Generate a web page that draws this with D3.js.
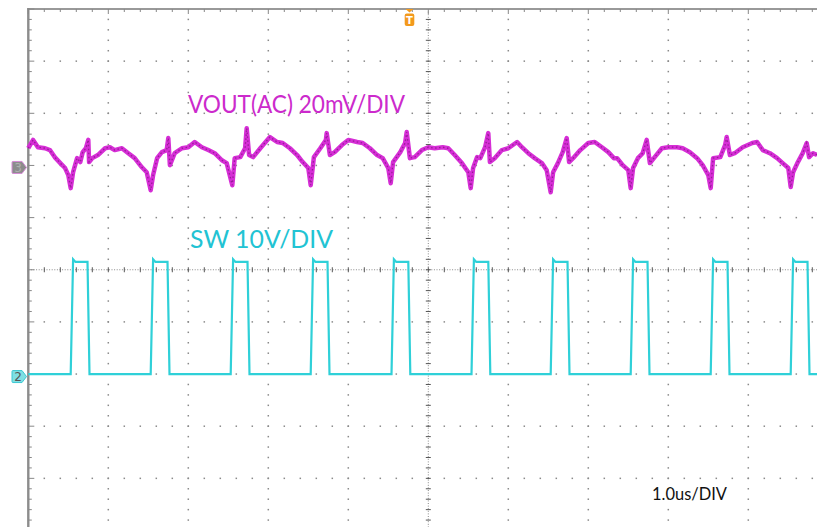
<!DOCTYPE html>
<html>
<head>
<meta charset="utf-8">
<script src="https://cdn.jsdelivr.net/npm/d3@7"></script>
<style>
  body { margin: 0; background: #fff; }
  svg { display: block; }
</style>
</head>
<body>
<div id="scope"></div>
<script>
// VOUT (AC) ripple: time in us, level in mV
var voutTime = [-5.00, -4.94, -4.88, -4.79, -4.73, -4.67, -4.60, -4.54, -4.50, -4.47, -4.44, -4.39, -4.35, -4.32, -4.28, -4.25, -4.24, -4.20, -4.13, -4.04,
  -3.98, -3.92, -3.83, -3.75, -3.67, -3.58, -3.52, -3.47, -3.44, -3.39, -3.33, -3.27, -3.25, -3.23, -3.17, -3.08, -3.00, -2.92, -2.83, -2.75,
  -2.67, -2.58, -2.52, -2.45, -2.42, -2.35, -2.29, -2.27, -2.24, -2.19, -2.10, -1.98, -1.89, -1.82, -1.73, -1.64, -1.57, -1.50, -1.47, -1.43,
  -1.35, -1.28, -1.27, -1.23, -1.17, -1.08, -1.00, -0.89, -0.82, -0.73, -0.64, -0.57, -0.50, -0.47, -0.44, -0.35, -0.29, -0.27, -0.23, -0.17,
  -0.08, 0.00, 0.08, 0.18, 0.25, 0.33, 0.42, 0.50, 0.53, 0.56, 0.61, 0.65, 0.71, 0.75, 0.77, 0.83, 0.92, 1.00, 1.11, 1.17,
  1.25, 1.33, 1.42, 1.48, 1.53, 1.56, 1.62, 1.68, 1.73, 1.76, 1.81, 1.90, 2.00, 2.08, 2.17, 2.25, 2.32, 2.36, 2.43, 2.50,
  2.53, 2.56, 2.62, 2.68, 2.73, 2.77, 2.83, 2.92, 3.00, 3.11, 3.18, 3.27, 3.36, 3.43, 3.50, 3.53, 3.56, 3.65, 3.71, 3.73,
  3.77, 3.83, 3.93, 4.05, 4.11, 4.18, 4.27, 4.36, 4.43, 4.50, 4.53, 4.56, 4.62, 4.68, 4.73, 4.76, 4.81, 4.86];
var voutMv = [6.6, 9.8, 7.0, 6.6, 5.9, 3.2, 0.9, -1.0, -3.7, -8.7, -2.6, 2.8, 1.3, 5.1, 6.6, 9.8, 1.3, 2.8, 4.0, 6.6,
  7.0, 5.9, 6.6, 4.7, 2.8, -0.7, -2.6, -9.5, -3.7, 2.8, 5.1, 5.9, 10.5, 0.1, 4.7, 6.6, 7.0, 9.0, 7.0, 5.9,
  4.7, 2.0, 0.9, -7.6, 2.8, 3.2, 6.6, 14.3, 4.0, 3.2, 6.6, 10.9, 9.0, 8.6, 6.6, 4.0, 1.3, -1.0, -7.6, 3.2,
  6.6, 9.8, 12.4, 4.0, 5.1, 7.8, 9.8, 9.0, 8.6, 6.6, 4.0, 2.8, -1.0, -6.8, 1.3, 5.1, 8.6, 12.8, 2.8, 3.2,
  5.9, 7.0, 6.6, 7.0, 6.6, 4.0, 0.9, -2.6, -8.7, -1.0, 3.2, 2.8, 7.0, 12.4, 1.3, 2.8, 5.9, 6.6, 9.0, 7.0,
  4.7, 2.8, 0.9, -1.8, -10.3, -2.6, 0.9, 5.1, 10.5, 1.3, 2.8, 5.9, 8.6, 9.0, 7.0, 5.1, 2.8, 2.8, 0.1, -1.8,
  -8.7, -1.0, 2.8, 4.7, 9.8, 0.9, 3.2, 6.6, 7.0, 7.0, 6.6, 5.1, 2.8, 0.1, -3.7, -8.7, 2.8, 3.2, 7.8, 10.9,
  4.0, 4.7, 7.0, 8.6, 9.0, 5.9, 4.7, 2.8, 0.9, -1.0, -8.3, -2.6, 1.3, 4.7, 8.6, 3.2, 4.7, 4.0];

// SW node: edge times (us) and levels (V)
var swRise = [-4.47, -3.47, -2.47, -1.47, -0.46, 0.54, 1.53, 2.53, 3.53, 4.53];
var swFall = [-4.26, -3.26, -2.26, -1.26, -0.25, 0.75, 1.74, 2.74, 3.74, 4.74];
var swLevels = [0.0, 22.0, 21.5];   // low, overshoot, high

// channel settings: scale per division and ground offset in divisions
var channelNames = ["VOUT(AC) 20mV/DIV", "SW 10V/DIV"];
var channelScale = [20, 10];
var channelOffset = [2.0, -2.0];
var timebaseLabel = "1.0us/DIV";
var triggerTime = -0.235;

var width = 817, height = 527;

var svg = d3.select("#scope").append("svg")
    .attr("width", width)
    .attr("height", height);

// 10 x 10 divisions, the screen runs past the right and bottom edge
var xScale = d3.scaleLinear().domain([-5, 5]).range([28.3, 828.3]);
var yScale = d3.scaleLinear().domain([-5, 5]).range([530.5, 9]);

var majors = d3.range(-5, 5.001, 1);
var minors = d3.range(-5, 5.001, 0.2);

var grid = svg.append("g").attr("class", "grid");

// dotted graticule on the major lines
majors.filter(function(d) { return d !== -5 && d !== 0; }).forEach(function(m) {
  grid.selectAll(null)
    .data(minors)
    .enter().append("rect")
      .attr("x", xScale(m) - 0.75)
      .attr("y", function(d) { return yScale(d) - 0.75; })
      .attr("width", 1.5).attr("height", 1.5)
      .attr("fill", "#8a8a8a");
  grid.selectAll(null)
    .data(minors)
    .enter().append("rect")
      .attr("x", function(d) { return xScale(d) - 0.75; })
      .attr("y", yScale(m) - 0.75)
      .attr("width", 1.5).attr("height", 1.5)
      .attr("fill", "#8a8a8a");
});

// centre cross lines with small ticks
grid.append("line")
    .attr("x1", xScale(-5)).attr("x2", width)
    .attr("y1", yScale(0)).attr("y2", yScale(0))
    .attr("stroke", "#8a8a8a").attr("stroke-dasharray", "1,1.6");
grid.append("line")
    .attr("x1", xScale(0)).attr("x2", xScale(0))
    .attr("y1", yScale(5)).attr("y2", height)
    .attr("stroke", "#8a8a8a").attr("stroke-dasharray", "1,1.6");
grid.selectAll(null)
  .data(minors)
  .enter().append("line")
    .attr("x1", function(d) { return xScale(d); })
    .attr("x2", function(d) { return xScale(d); })
    .attr("y1", yScale(0) - 2.5).attr("y2", yScale(0) + 2.5)
    .attr("stroke", "#555");
grid.selectAll(null)
  .data(minors)
  .enter().append("line")
    .attr("x1", xScale(0) - 2.5).attr("x2", xScale(0) + 2.5)
    .attr("y1", function(d) { return yScale(d); })
    .attr("y2", function(d) { return yScale(d); })
    .attr("stroke", "#555");

// frame: left and top edges with ticks
grid.append("line")
    .attr("x1", xScale(-5)).attr("x2", width)
    .attr("y1", yScale(5)).attr("y2", yScale(5))
    .attr("stroke", "#999").attr("stroke-width", 2);
grid.append("line")
    .attr("x1", xScale(-5)).attr("x2", xScale(-5))
    .attr("y1", yScale(5) - 1).attr("y2", height)
    .attr("stroke", "#8c8c8c").attr("stroke-width", 2.4);
grid.selectAll(null)
  .data(minors)
  .enter().append("line")
    .attr("x1", function(d) { return xScale(d); })
    .attr("x2", function(d) { return xScale(d); })
    .attr("y1", yScale(5))
    .attr("y2", function(d) { return yScale(5) + (Math.abs(d % 1) < 0.01 ? 5 : 3); })
    .attr("stroke", "#888");
grid.selectAll(null)
  .data(minors)
  .enter().append("line")
    .attr("x1", xScale(-5))
    .attr("x2", function(d) { return xScale(-5) + (Math.abs(d % 1) < 0.01 ? 6 : 3.5); })
    .attr("y1", function(d) { return yScale(d); })
    .attr("y2", function(d) { return yScale(d); })
    .attr("stroke", "#888");

// channel 3: VOUT ripple
var voutY = function(mv) { return yScale(mv / channelScale[0] + channelOffset[0]); };
var voutPts = voutTime.map(function(t, i) { return [xScale(t), voutY(voutMv[i])]; });
var line = d3.line();

svg.append("path")
    .attr("d", line(voutPts))
    .attr("fill", "none")
    .attr("stroke", "#d62ed6")
    .attr("stroke-width", 4.5)
    .attr("stroke-linejoin", "round");
svg.append("path")
    .attr("d", line(voutPts))
    .attr("fill", "none")
    .attr("stroke", "#7e167e")
    .attr("stroke-width", 1.3)
    .attr("stroke-dasharray", "1.5,2.5")
    .attr("opacity", 0.7);

// channel 2: SW node
var swY = function(v) { return yScale(v / channelScale[1] + channelOffset[1]); };
var swPts = [[xScale(-5), swY(swLevels[0])]];
swRise.forEach(function(r, i) {
  swPts.push([xScale(r), swY(swLevels[0])]);
  swPts.push([xScale(r + 0.03), swY(swLevels[1])]);
  swPts.push([xScale(r + 0.06), swY(swLevels[2])]);
  swPts.push([xScale(swFall[i]), swY(swLevels[2])]);
  swPts.push([xScale(swFall[i] + 0.025), swY(swLevels[0])]);
});
swPts.push([width, swY(swLevels[0])]);

svg.append("path")
    .attr("d", line(swPts))
    .attr("fill", "none")
    .attr("stroke", "#2fd0d8")
    .attr("stroke-width", 2.2);

// channel labels
svg.append("text")
    .attr("x", 188).attr("y", 113)
    .attr("font-family", "Lato, 'Liberation Sans', sans-serif")
    .attr("font-size", 25)
    .attr("fill", "#cc2acc")
    .attr("textLength", 217).attr("lengthAdjust", "spacingAndGlyphs")
    .text(channelNames[0]);
svg.append("text")
    .attr("x", 190).attr("y", 248)
    .attr("font-family", "Lato, 'Liberation Sans', sans-serif")
    .attr("font-size", 25)
    .attr("fill", "#22c3d3")
    .attr("textLength", 143).attr("lengthAdjust", "spacingAndGlyphs")
    .text(channelNames[1]);
svg.append("text")
    .attr("x", 652).attr("y", 500)
    .attr("font-family", "Lato, 'Liberation Sans', sans-serif")
    .attr("font-size", 18)
    .attr("fill", "#111")
    .attr("textLength", 75).attr("lengthAdjust", "spacingAndGlyphs")
    .text(timebaseLabel);

// ground markers on the left edge
var marker = function(yc, fill, edge, label, color) {
  var g = svg.append("g").attr("transform", "translate(12," + (yc - 6) + ")");
  g.append("path")
      .attr("d", "M0,1 Q0,0 1,0 L10,0 L14.5,6 L10,12 L1,12 Q0,12 0,11 Z")
      .attr("fill", fill)
      .attr("stroke", edge).attr("stroke-width", 1);
  g.append("text")
      .attr("x", 6).attr("y", 10.5)
      .attr("text-anchor", "middle")
      .attr("font-family", "'DejaVu Sans', sans-serif")
      .attr("font-size", 12)
      .attr("fill", color)
      .text(label);
};
marker(voutY(0) + 2, "#8c8c8c", "#d58ad5", "3", "#b0b0b0");
marker(swY(0) + 2.5, "#7fdfe3", "#3cc8d2", "2", "#555");

// trigger marker at the top
var trig = svg.append("g").attr("transform", "translate(" + xScale(triggerTime) + ",0)");
trig.append("path")
    .attr("d", "M-4,9 L4,9 L0,12.5 Z")
    .attr("fill", "#f39a1c");
trig.append("rect")
    .attr("x", -4.8).attr("y", 13.5)
    .attr("width", 9.6).attr("height", 12.5)
    .attr("rx", 2)
    .attr("fill", "#f39a1c");
trig.append("text")
    .attr("x", 0).attr("y", 24)
    .attr("text-anchor", "middle")
    .attr("font-family", "'DejaVu Sans', sans-serif")
    .attr("font-weight", "bold")
    .attr("font-size", 10)
    .attr("fill", "#fff")
    .text("T");
</script>
</body>
</html>
